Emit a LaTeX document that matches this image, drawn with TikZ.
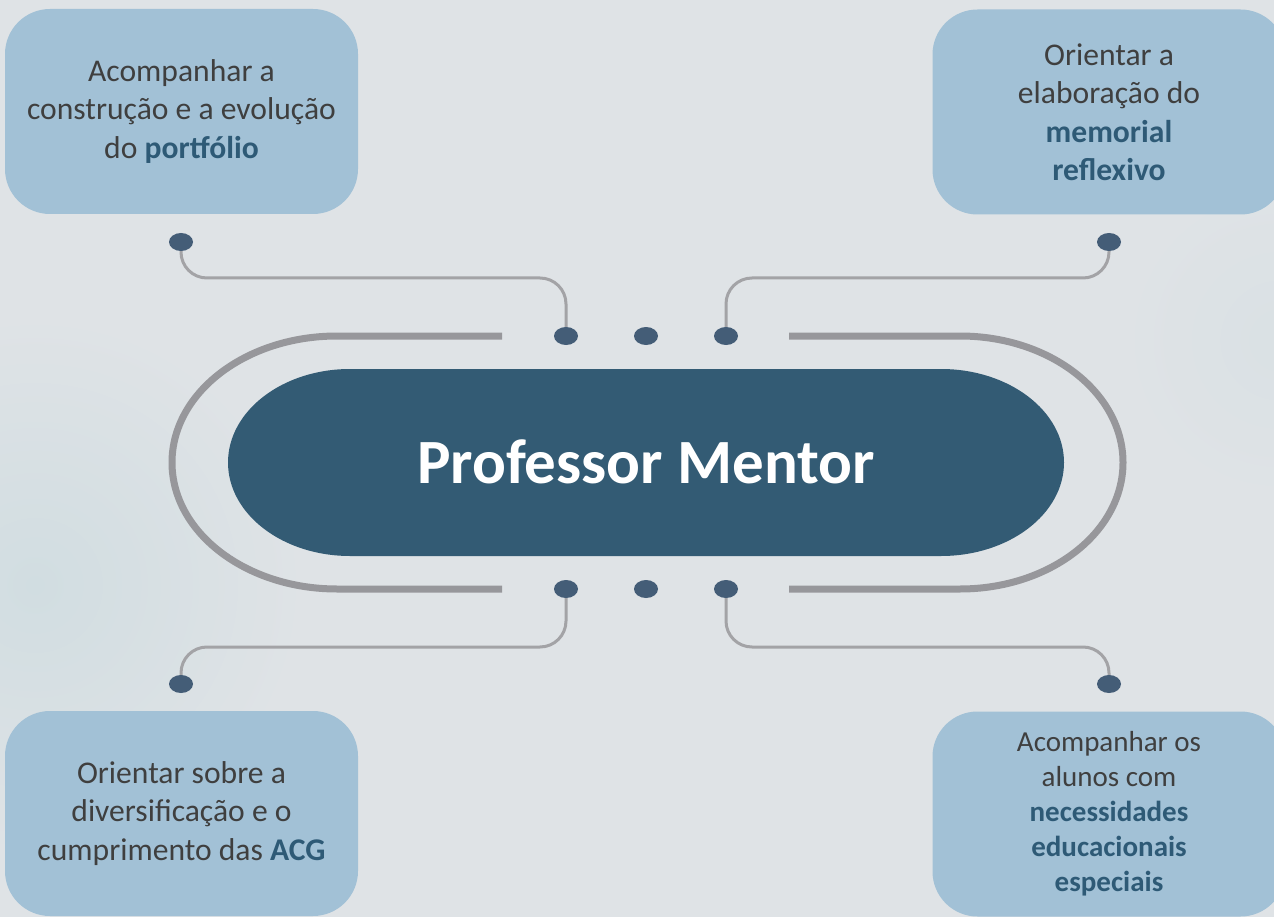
\documentclass[tikz,border=0pt]{standalone}
\usepackage{fontspec}
\setmainfont{Carlito}
\usetikzlibrary{shapes.geometric}
\definecolor{bgcol}{HTML}{DFE3E6}
\definecolor{ripple}{HTML}{D1DDE1}
\definecolor{boxcol}{HTML}{A2C1D6}
\definecolor{pillcol}{HTML}{335B74}
\definecolor{dotcol}{HTML}{445D77}
\definecolor{trackcol}{HTML}{97979B}
\definecolor{conncol}{HTML}{A3A3A6}
\definecolor{txtcol}{HTML}{3F3F3F}
\definecolor{keycol}{HTML}{2E5A76}
\newcommand{\keyw}[1]{\textbf{\color{keycol}#1}}
\begin{document}
\begin{tikzpicture}[x=1pt, y=-1pt,
  box/.style={fill=boxcol, rounded corners=45, minimum width=353, minimum height=205,
    align=center, text=txtcol, font=\fontsize{31.6}{38.5}\selectfont},
  smallbox/.style={box, font=\fontsize{29}{35}\selectfont},
  dot/.style={ellipse, fill=dotcol, minimum width=24, minimum height=18, inner sep=0},
  conn/.style={draw=conncol, line width=3, rounded corners=26},
  track/.style={draw=trackcol, line width=7}]
  \useasboundingbox (0,0) rectangle (1274,917);
  \fill[bgcol] (0,0) rectangle (1274,917);
  \shade[inner color=ripple, outer color=bgcol] (35,585) circle (270pt);
  \shade[inner color=ripple!40!bgcol, outer color=bgcol] (1280,340) circle (160pt);
  \draw[track] (502,336) -- (337,336) arc[start angle=90, end angle=270, x radius=165pt, y radius=126.5pt] -- (502,589);
  \draw[track] (789,336) -- (960,336) arc[start angle=90, end angle=-90, x radius=163pt, y radius=126.5pt] -- (789,589);
  \fill[pillcol] (350,369) -- (941,369) arc[start angle=90, end angle=-90, x radius=123pt, y radius=93.5pt]
    -- (350,556) arc[start angle=270, end angle=90, x radius=122pt, y radius=93.5pt] -- cycle;
  \node[text=white, font=\fontsize{63}{70}\selectfont\bfseries] (mentor) at (646,462) {Professor Mentor};
  \node[box] (portf) at (181.5,111.5) {Acompanhar a\\construção e a evolução\\do \keyw{portfólio}};
  \node[box] (memor) at (1109,112) {Orientar a\\elaboração do\\\keyw{memorial}\\\keyw{reflexivo}};
  \node[box] (acg) at (181.5,813.5) {Orientar sobre a\\diversificação e o\\cumprimento das \keyw{ACG}};
  \node[smallbox] (nee) at (1109,814) {Acompanhar os\\alunos com\\\keyw{necessidades}\\\keyw{educacionais}\\\keyw{especiais}};
  \node[dot] (portfdot) at (181,242) {};
  \node[dot] (memordot) at (1109,242) {};
  \node[dot] (acgdot) at (181,684) {};
  \node[dot] (needot) at (1109,684) {};
  \node[dot] (topa) at (566,336) {};
  \node[dot] (topb) at (646,336) {};
  \node[dot] (topc) at (726,336) {};
  \node[dot] (bota) at (566,589) {};
  \node[dot] (botb) at (646,589) {};
  \node[dot] (botc) at (726,589) {};
  \draw[conn] (portfdot.south) -- (portfdot |- 0,278) -- (topa |- 0,278) -- (topa.north);
  \draw[conn] (memordot.south) -- (memordot |- 0,278) -- (topc |- 0,278) -- (topc.north);
  \draw[conn] (bota.south) -- (bota |- 0,647) -- (acgdot |- 0,647) -- (acgdot.north);
  \draw[conn] (botc.south) -- (botc |- 0,647) -- (needot |- 0,647) -- (needot.north);
\end{tikzpicture}
\end{document}
